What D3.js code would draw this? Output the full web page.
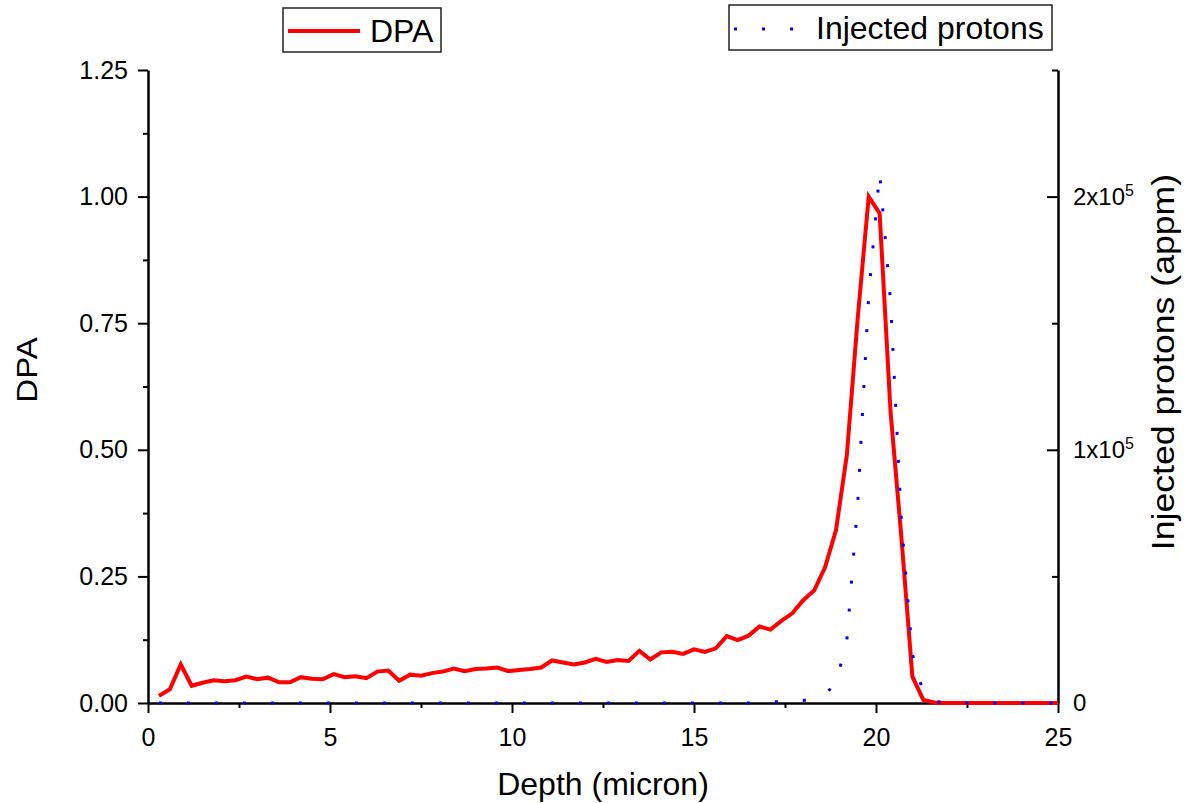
<!DOCTYPE html>
<html>
<head>
<meta charset="utf-8">
<script src="https://cdn.jsdelivr.net/npm/d3@7"></script>
<style>
  html, body { margin: 0; padding: 0; background: #fff; }
  svg { display: block; font-family: "Liberation Sans", Arial, sans-serif; }
</style>
</head>
<body>
<svg id="chart" width="1188" height="803"></svg>
<script>
// ---------------- data ----------------
const depth = [0.3,0.6,0.9,1.2,1.5,1.8,2.1,2.4,2.7,3.0,3.3,3.6,3.9,4.2,4.5,4.8,5.1,5.4,5.7,6.0,
  6.3,6.6,6.9,7.2,7.5,7.8,8.1,8.4,8.7,9.0,9.3,9.6,9.9,10.2,10.5,10.8,11.1,11.4,11.7,12.0,
  12.3,12.6,12.9,13.2,13.5,13.8,14.1,14.4,14.7,15.0,15.3,15.6,15.9,16.2,16.5,16.8,17.1,17.4,17.7,18.0,
  18.3,18.6,18.9,19.2,19.5,19.8,20.1,20.4,20.7,21.0,21.3,21.6,21.9,22.2,22.5,22.8,23.1,23.4,23.7,24.0,
  24.3,24.6,24.9,25.0];
const dpa = [0.014,0.027,0.076,0.034,0.040,0.045,0.043,0.045,0.052,0.047,0.050,0.041,0.041,0.051,0.048,0.047,0.057,0.051,0.053,0.049,
  0.062,0.064,0.044,0.056,0.054,0.059,0.062,0.068,0.063,0.067,0.068,0.070,0.063,0.065,0.067,0.070,0.084,0.080,0.076,0.080,
  0.087,0.081,0.085,0.083,0.103,0.086,0.100,0.101,0.097,0.106,0.101,0.108,0.132,0.124,0.133,0.151,0.145,0.162,0.177,0.203,
  0.222,0.268,0.341,0.490,0.762,1.000,0.967,0.575,0.325,0.052,0.006,0.001,0,0,0,0,0,0,0,0,
  0,0,0,0];
const protons = [0,0,0,0,0,0,0,0,0,0,0,0,0,0,0,0,0,0,0,0,
  0,0,0,0,0,0,0,0,0,0,0,0,0,0,0,0,0,0,0,0,
  0,0,0,0,0,0,0,0,0,0,0,0,0,0,0,0,400,600,800,1000,
  1600,3600,7600,24900,79400,161300,209500,158600,71300,19200,4000,800,0,0,0,0,0,0,0,0,
  0,0,0,0];
const xTicks = [0,5,10,15,20,25];
const xMinor = [2.5,7.5,12.5,17.5,22.5];
const yLTicks = [0,0.25,0.5,0.75,1.0,1.25];
const yLMinor = [0.125,0.375,0.625,0.875,1.125];
const yRTicks = [0,100000,200000];
const yRLabels = [["0",null],["1x10","5"],["2x10","5"]];
const yRMinor = [50000,150000,250000];

// ---------------- layout ----------------
const svg = d3.select("#chart");
const ff = "'Liberation Sans', Arial, sans-serif";
const x = d3.scaleLinear().domain([0,25]).range([148,1058]);
const yL = d3.scaleLinear().domain([0,1.25]).range([703,70]);
const yR = d3.scaleLinear().domain([0,250000]).range([703,70]);

function styleAxis(g, fs) {
  g.select(".domain").attr("stroke","#000").attr("stroke-width",2.5);
  g.selectAll(".tick line").attr("stroke","#000").attr("stroke-width",2);
  g.selectAll(".tick text").attr("fill","#000").attr("font-size",fs).attr("font-family",ff);
}

// minor ticks
svg.append("g").attr("transform","translate(0,703)")
  .call(d3.axisBottom(x).tickValues(xMinor).tickSize(5).tickSizeOuter(0).tickFormat(""))
  .call(g=>{styleAxis(g,25); g.select(".domain").remove();});
svg.append("g").attr("transform","translate(148,0)")
  .call(d3.axisLeft(yL).tickValues(yLMinor).tickSize(5).tickSizeOuter(0).tickFormat(""))
  .call(g=>{styleAxis(g,25); g.select(".domain").remove();});
svg.append("g").attr("transform","translate(1058,0)")
  .call(d3.axisRight(yR).tickValues(yRMinor).tickSize(-6).tickSizeOuter(0).tickFormat(""))
  .call(g=>{styleAxis(g,24); g.select(".domain").remove();});

// major axes
svg.append("g").attr("transform","translate(0,703)")
  .call(d3.axisBottom(x).tickValues(xTicks).tickSize(10).tickSizeOuter(0).tickPadding(15).tickFormat(d3.format("d")))
  .call(g=>styleAxis(g,25));
svg.append("g").attr("transform","translate(148,0)")
  .call(d3.axisLeft(yL).tickValues(yLTicks).tickSize(10).tickSizeOuter(0).tickPadding(10).tickFormat(d3.format(".2f")))
  .call(g=>styleAxis(g,25));
const rAx = svg.append("g").attr("transform","translate(1058,0)")
  .call(d3.axisRight(yR).tickValues(yRTicks).tickSize(-11).tickSizeOuter(0).tickPadding(15).tickFormat(""))
  .call(g=>styleAxis(g,24));
rAx.selectAll(".tick text").each(function(d,i){
  const t = d3.select(this);
  const lab = yRLabels[i];
  t.text(null);
  t.append("tspan").text(lab[0]);
  if (lab[1]) t.append("tspan").attr("font-size",16).attr("dy","-0.55em").text(lab[1]);
});

// ---------------- series ----------------
const pts = depth.map((d,i)=>({d, v:dpa[i], p:protons[i]}));
svg.append("path").datum(pts)
  .attr("fill","none").attr("stroke","#ff0000").attr("stroke-width",4).attr("stroke-linejoin","miter")
  .attr("d", d3.line().x(p=>x(p.d)).y(p=>yL(p.v)));
svg.append("path").datum(pts.filter(p=>p.d<=24.9))
  .attr("fill","none").attr("stroke","#0000ff").attr("stroke-width",3).attr("stroke-dasharray","3 25")
  .attr("d", d3.line().x(p=>x(p.d)).y(p=>yR(p.p)));

// ---------------- titles ----------------
svg.append("text").attr("x",603).attr("y",795).attr("text-anchor","middle")
  .attr("font-size",32).attr("font-family",ff).text("Depth (micron)");
svg.append("text").attr("transform","translate(37,370) scale(1,1.1) rotate(-90)").attr("text-anchor","middle")
  .attr("font-size",30).attr("font-family",ff).text("DPA");
svg.append("text").attr("transform","translate(1174,362) scale(1,1.15) rotate(-90)").attr("text-anchor","middle")
  .attr("font-size",31).attr("font-family",ff).text("Injected protons (appm)");

// ---------------- legends ----------------
const lg1 = svg.append("g");
lg1.append("rect").attr("x",283).attr("y",8).attr("width",158).attr("height",44)
  .attr("fill","#fff").attr("stroke","#222").attr("stroke-width",1.5);
lg1.append("line").attr("x1",288).attr("x2",360).attr("y1",31).attr("y2",31)
  .attr("stroke","#ff0000").attr("stroke-width",4);
lg1.append("text").attr("x",370).attr("y",42).attr("font-size",32).attr("font-family",ff).text("DPA");

const lg2 = svg.append("g");
lg2.append("rect").attr("x",729).attr("y",5).attr("width",323).attr("height",45)
  .attr("fill","#fff").attr("stroke","#222").attr("stroke-width",1.5);
lg2.append("line").attr("x1",734).attr("x2",800).attr("y1",29).attr("y2",29)
  .attr("stroke","#0000ff").attr("stroke-width",3).attr("stroke-dasharray","3 25");
lg2.append("text").attr("x",816).attr("y",39).attr("font-size",32).attr("font-family",ff).text("Injected protons");
</script>
</body>
</html>
